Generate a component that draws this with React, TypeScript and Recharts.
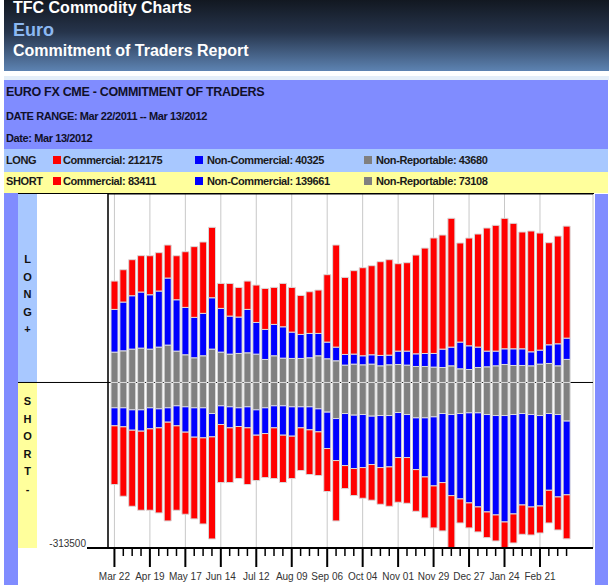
import React from "react";
import { BarChart, Bar, XAxis, YAxis, CartesianGrid } from "recharts";

const FONT = '"Liberation Sans", Arial, Helvetica, sans-serif';

// weekly report dates, Mar 22 2011 .. Mar 13 2012
const weeks = [
  "Mar 22", "Mar 29", "Apr 05", "Apr 12", "Apr 19", "Apr 26", "May 03", "May 10",
  "May 17", "May 24", "May 31", "Jun 07", "Jun 14", "Jun 21", "Jun 28", "Jul 05",
  "Jul 12", "Jul 19", "Jul 26", "Aug 02", "Aug 09", "Aug 16", "Aug 23", "Aug 30",
  "Sep 06", "Sep 13", "Sep 20", "Sep 27", "Oct 04", "Oct 11", "Oct 18", "Oct 25",
  "Nov 01", "Nov 08", "Nov 15", "Nov 22", "Nov 29", "Dec 06", "Dec 13", "Dec 20",
  "Dec 27", "Jan 03", "Jan 10", "Jan 17", "Jan 24", "Jan 31", "Feb 07", "Feb 14",
  "Feb 21", "Feb 28", "Mar 06", "Mar 13",
];

const majorWeeks = [
  "Mar 22", "Apr 19", "May 17", "Jun 14", "Jul 12", "Aug 09", "Sep 06",
  "Oct 04", "Nov 01", "Nov 29", "Dec 27", "Jan 24", "Feb 21",
];

const longCommercial = [
  53700, 61300, 68300, 68900, 73900, 72700, 62600, 83400, 105500, 134000, 135200, 133400, 47400,
  61900, 56200, 53700, 70800, 77700, 70200, 82200, 84700, 73900, 79000, 82200, 127700, 193400,
  146000, 158000, 166800, 168700, 177600, 180800, 165600, 167500, 187100, 199700, 218700, 216100,
  244000, 187700, 204100, 214200, 233200, 238300, 247100, 237600, 221200, 228800, 221800, 193400,
  204100, 212175,
];
const longNonCommercial = [
  80900, 92300, 101100, 106200, 103000, 106200, 127000, 97300, 89700, 76500, 80300, 97300, 82800,
  72000, 68900, 82200, 60000, 56900, 59400, 59400, 49900, 45500, 46100, 42300, 31600, 25900,
  20200, 19000, 17100, 17700, 19600, 18300, 25300, 26500, 24000, 24600, 25900, 34800,
  35400, 50600, 44900, 38600, 29700, 27800, 29700, 31600, 31600, 26500, 26500, 35400,
  41700, 40325,
];
const longNonReportable = [
  57500, 60000, 63200, 65100, 63200, 67000, 70800, 59400, 52500, 46800, 50600, 63200, 57500,
  53700, 55000, 56200, 53700, 43600, 50600, 46100, 45500, 45500, 46800, 50600, 44900, 41100,
  32900, 34800, 33500, 34800, 31600, 33500, 34100, 32900, 30300, 30300, 29100, 28400,
  31600, 25900, 24600, 28400, 29700, 31600, 34100, 32200, 32200, 31600, 34800, 36000,
  31600, 43680,
];

const shortCommercial = [
  111200, 131500, 144100, 149800, 154200, 161200, 187100, 159900, 155500, 154800, 163100, 193400, 110000,
  103600, 98600, 107400, 86000, 83400, 96100, 89700, 80300, 80900, 84700, 82800, 81500, 114400,
  43600, 51200, 58100, 67600, 69500, 74600, 84700, 86600, 79000, 77700, 79600, 91600,
  99200, 45500, 47400, 47400, 48700, 49300, 49300, 55000, 55600, 53100, 51200, 61900,
  62600, 83411,
];
const shortNonCommercial = [
  34100, 36000, 38600, 40400, 39800, 36000, 27200, 37900, 48000, 55600, 56900, 44200, 35400,
  39800, 35400, 39800, 48000, 48700, 41700, 55600, 55600, 39800, 43600, 43600, 68900, 79600,
  98600, 101100, 100500, 91600, 98600, 97300, 85300, 81500, 98000, 111900, 130800, 130800,
  153600, 161800, 170600, 178200, 184500, 188300, 201600, 188300, 173200, 175100, 171300, 145400,
  156100, 139661,
];
const shortNonReportable = [
  48000, 48000, 51800, 51800, 48000, 49900, 48000, 44200, 46100, 48000, 48000, 58800, 44200,
  46100, 48000, 46100, 51800, 48000, 44200, 44200, 46100, 46100, 46100, 49900, 56200, 68300,
  58800, 61900, 60700, 63800, 62600, 62600, 56900, 60700, 67000, 67000, 65100, 58800,
  60700, 58800, 57500, 57500, 60700, 62600, 62600, 60700, 58800, 60700, 62600, 58800,
  60700, 73108,
];

const yDomain = [-313500, 357000];
const yTicks = [-313500, 0];

const data = weeks.map((week, i) => ({
  week,
  longNR: longNonReportable[i],
  shortNR: -shortNonReportable[i],
  longNC: longNonCommercial[i],
  shortNC: -shortNonCommercial[i],
  longC: longCommercial[i],
  shortC: -shortCommercial[i],
}));

const last = weeks.length - 1;

const RED = "#ff0000";
const BLUE = "#0000ff";
const GRAY = "#808080";
const TITLE_BLUE = "#808cff";
const LIGHT_BLUE = "#a8c8ff";
const YELLOW = "#ffff9c";

const WeekTick = (props: any) => {
  const { x, y, payload } = props;
  const major = majorWeeks.includes(payload.value);
  return (
    <g>
      <line x1={x} x2={x} y1={y} y2={y + (major ? 19 : 8)} stroke="#000" strokeWidth={major ? 2 : 1.5} />
      {major && (
        <text x={x} y={y + 32} textAnchor="middle" fontSize={10} fill="#333" fontFamily={FONT}>
          {payload.value}
        </text>
      )}
    </g>
  );
};

const ValueTick = (props: any) => {
  const { x, y, payload } = props;
  if (payload.value === 0) {
    // divider between LONG and SHORT panels
    return <line x1={x - 90} x2={x} y1={y} y2={y} stroke="#000" strokeWidth={1} />;
  }
  return (
    <g>
      <line x1={x - 21} x2={x} y1={y} y2={y} stroke="#000" strokeWidth={2} />
      <text x={x - 22} y={y - 1} textAnchor="end" fontSize={10} fill="#333" fontFamily={FONT}>
        {payload.value}
      </text>
    </g>
  );
};

const box = (left: number, top: number, width: number, height: number, background: string): React.CSSProperties => ({
  position: "absolute",
  left,
  top,
  width,
  height,
  background,
});

// baseline -> top for lineHeight 1
const txt = (left: number, baseline: number, size: number, color: string, extra?: React.CSSProperties): React.CSSProperties => ({
  position: "absolute",
  left,
  top: baseline - 0.8465 * size,
  fontSize: size,
  lineHeight: 1,
  fontWeight: "bold",
  color,
  whiteSpace: "nowrap",
  ...extra,
});

const Swatch: React.FC<{ left: number; top: number; color: string }> = ({ left, top, color }) => (
  <div style={box(left, top, 8, 8, color)} />
);

const LegendRow: React.FC<{
  label: string;
  top: number;
  baseline: number;
  bg: string;
  height: number;
  c: number;
  nc: number;
  nr: number;
}> = ({ label, top, baseline, bg, height, c, nc, nr }) => {
  const ls = { letterSpacing: -0.4 };
  return (
    <>
      <div style={box(4, top, 604, height, bg)} />
      <div style={txt(6, baseline, 11, "#1a1a1a", ls)}>{label}</div>
      <Swatch left={53} top={baseline - 8} color={RED} />
      <div style={txt(63, baseline, 11, "#1a1a1a", ls)}>Commercial: {c}</div>
      <Swatch left={195} top={baseline - 8} color={BLUE} />
      <div style={txt(207, baseline, 11, "#1a1a1a", ls)}>Non-Commercial: {nc}</div>
      <Swatch left={364} top={baseline - 8} color={GRAY} />
      <div style={txt(376, baseline, 11, "#1a1a1a", ls)}>Non-Reportable: {nr}</div>
    </>
  );
};

const SideLabel: React.FC<{ letters: string[]; top: number }> = ({ letters, top }) => (
  <div
    style={{
      position: "absolute",
      left: 18,
      top,
      width: 19,
      textAlign: "center",
      fontSize: 11,
      lineHeight: "17.6px",
      fontWeight: "bold",
      color: "#111",
    }}
  >
    {letters.map((l, i) => (
      <div key={i}>{l}</div>
    ))}
  </div>
);

const App: React.FC = () => {
  return (
    <div
      style={{
        position: "absolute",
        left: 0,
        top: 0,
        width: 612,
        height: 587,
        overflow: "hidden",
        background: "#fff",
        fontFamily: FONT,
      }}
    >
      {/* header */}
      <div style={box(4, 0, 605, 71, "linear-gradient(to bottom, #121821 0%, #26344b 45%, #5d83b2 100%)")} />
      <div style={box(4, 76, 605, 4, "#e4eef9")} />
      <div style={txt(13, 13.5, 16, "#ffffff")}>TFC Commodity Charts</div>
      <div style={txt(13, 36, 18, "#8cb8f2")}>Euro</div>
      <div style={txt(13, 57, 16, "#ffffff")}>Commitment of Traders Report</div>

      {/* title block */}
      <div style={box(4, 80, 604, 69, TITLE_BLUE)} />
      <div style={txt(6, 97, 12.5, "#10102a", { letterSpacing: -0.3 })}>EURO FX CME - COMMITMENT OF TRADERS</div>
      <div style={txt(6, 120, 11, "#10102a", { letterSpacing: -0.4 })}>DATE RANGE: Mar 22/2011 -- Mar 13/2012</div>
      <div style={txt(6, 142, 11, "#10102a", { letterSpacing: -0.4 })}>Date: Mar 13/2012</div>

      <LegendRow
        label="LONG"
        top={149}
        height={23}
        baseline={164}
        bg={LIGHT_BLUE}
        c={longCommercial[last]}
        nc={longNonCommercial[last]}
        nr={longNonReportable[last]}
      />
      <LegendRow
        label="SHORT"
        top={172}
        height={21}
        baseline={185}
        bg={YELLOW}
        c={shortCommercial[last]}
        nc={shortNonCommercial[last]}
        nr={shortNonReportable[last]}
      />

      {/* chart frame */}
      <div style={box(4, 193, 14, 392, TITLE_BLUE)} />
      <div style={box(595, 194, 13, 391, TITLE_BLUE)} />
      <div style={box(18, 194, 19, 188, LIGHT_BLUE)} />
      <div style={box(18, 382, 19, 166, YELLOW)} />
      <div style={box(18, 193, 576, 1, "#000")} />
      <SideLabel letters={["L", "O", "N", "G", "+"]} top={251} />
      <SideLabel letters={["S", "H", "O", "R", "T", "-"]} top={393} />

      <div style={{ position: "absolute", left: 0, top: 190 }}>
        <BarChart
          width={612}
          height={397}
          data={data}
          stackOffset="sign"
          margin={{ top: 4, right: 19, bottom: 0, left: 0 }}
        >
          <XAxis
            xAxisId="grid"
            dataKey="week"
            hide
            ticks={majorWeeks}
            interval={0}
            padding={{ left: 2, right: 22 }}
          />
          <CartesianGrid xAxisId="grid" horizontal={false} stroke="#c8c8c8" />
          <CartesianGrid vertical={false} stroke="#000" />
          <XAxis
            dataKey="week"
            interval={0}
            height={39}
            tick={<WeekTick />}
            tickLine={false}
            tickSize={0}
            tickMargin={0}
            axisLine={{ stroke: "#000", strokeWidth: 2 }}
            padding={{ left: 2, right: 22 }}
          />
          <YAxis
            width={108}
            domain={yDomain}
            ticks={yTicks}
            interval={0}
            tick={<ValueTick />}
            tickLine={false}
            tickSize={0}
            tickMargin={0}
            axisLine={{ stroke: "#000", strokeWidth: 1.5 }}
          />
          <Bar dataKey="longNR" stackId="a" fill={GRAY} stroke="#dadada" barSize={7} isAnimationActive={false} />
          <Bar dataKey="shortNR" stackId="a" fill={GRAY} stroke="#dadada" barSize={7} isAnimationActive={false} />
          <Bar dataKey="longNC" stackId="a" fill={BLUE} stroke="#dadada" barSize={7} isAnimationActive={false} />
          <Bar dataKey="shortNC" stackId="a" fill={BLUE} stroke="#dadada" barSize={7} isAnimationActive={false} />
          <Bar dataKey="longC" stackId="a" fill={RED} stroke="#dadada" barSize={7} isAnimationActive={false} />
          <Bar dataKey="shortC" stackId="a" fill={RED} stroke="#dadada" barSize={7} isAnimationActive={false} />
        </BarChart>
      </div>
    </div>
  );
};

export default App;
